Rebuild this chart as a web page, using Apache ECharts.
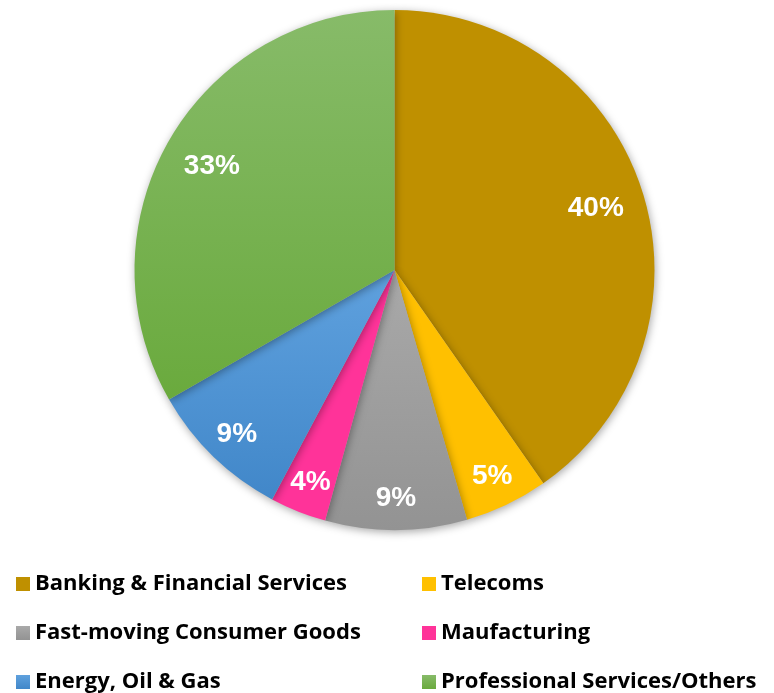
<!DOCTYPE html>
<html><head><meta charset="utf-8">
<script src="https://cdn.jsdelivr.net/npm/echarts@6/dist/echarts.min.js"></script>
<style>html,body{margin:0;padding:0;background:#fff}#c{width:774px;height:693px}</style>
</head><body><div id="c"></div>
<script>
var categories = ['Banking & Financial Services','Telecoms','Fast-moving Consumer Goods','Maufacturing','Energy, Oil & Gas','Professional Services/Others'];
var values = [40.3, 5.2, 8.8, 3.5, 8.9, 33.3];
var leftLegend = ['Banking & Financial Services','Fast-moving Consumer Goods','Energy, Oil & Gas'];
var rightLegend = ['Telecoms','Maufacturing','Professional Services/Others'];
var bigSlices = ['Banking & Financial Services','Professional Services/Others'];

function grad(a, b) {
  return new echarts.graphic.LinearGradient(0, 0, 0, 1, [{offset: 0, color: a}, {offset: 1, color: b}]);
}
var colors = [
  '#BF9000',
  '#FFC000',
  grad('#A9A9A9', '#939393'),
  '#FF3399',
  grad('#5FA1DE', '#4187C9'),
  grad('#87BB69', '#6AAA3D')
];

var chart = echarts.init(document.getElementById('c'));
var R = 260;
var C = [394.5, 270];
var legendText = {fontFamily: 'Open Sans', fontWeight: 'bold', fontSize: 22, color: '#000'};
var labelStyle = {show: true, position: 'inside', formatter: '{d}%', color: '#fff', fontFamily: 'Liberation Sans', fontWeight: 'bold', fontSize: 28, offset: [0, 2]};
function labelSeries(scale, big) {
  return {
    type: 'pie', center: C, radius: [0, R * scale], startAngle: 90, clockwise: true,
    silent: true, avoidLabelOverlap: false, percentPrecision: 0,
    data: categories.map(function (n, i) {
      var isBig = bigSlices.indexOf(n) >= 0;
      return {name: n, value: values[i], label: {show: isBig === big}};
    }),
    itemStyle: {color: 'rgba(0,0,0,0)'},
    label: labelStyle,
    labelLine: {show: false}
  };
}
chart.setOption({
  animation: false,
  legend: [
    {data: leftLegend, orient: 'vertical', left: 11, top: 568, height: 125, itemWidth: 14, itemHeight: 14, itemGap: 27, itemGap: 27, icon: 'rect', textStyle: legendText, selectedMode: false},
    {data: rightLegend, orient: 'vertical', left: 417, top: 568, height: 125, itemWidth: 14, itemHeight: 14, itemGap: 27, icon: 'rect', textStyle: legendText, selectedMode: false}
  ],
  series: [
    {
      type: 'pie', center: C, radius: [0, R], startAngle: 90, clockwise: true,
      silent: true,
      data: categories.map(function (n, i) { return {name: n, value: values[i], itemStyle: {color: colors[i]}}; }),
      itemStyle: {shadowBlur: 8, shadowColor: 'rgba(0,0,0,0.35)', shadowOffsetX: 1, shadowOffsetY: 2},
      label: {show: false}, labelLine: {show: false}
    },
    labelSeries(1.6, true),
    labelSeries(1.72, false)
  ]
});
</script></body></html>
